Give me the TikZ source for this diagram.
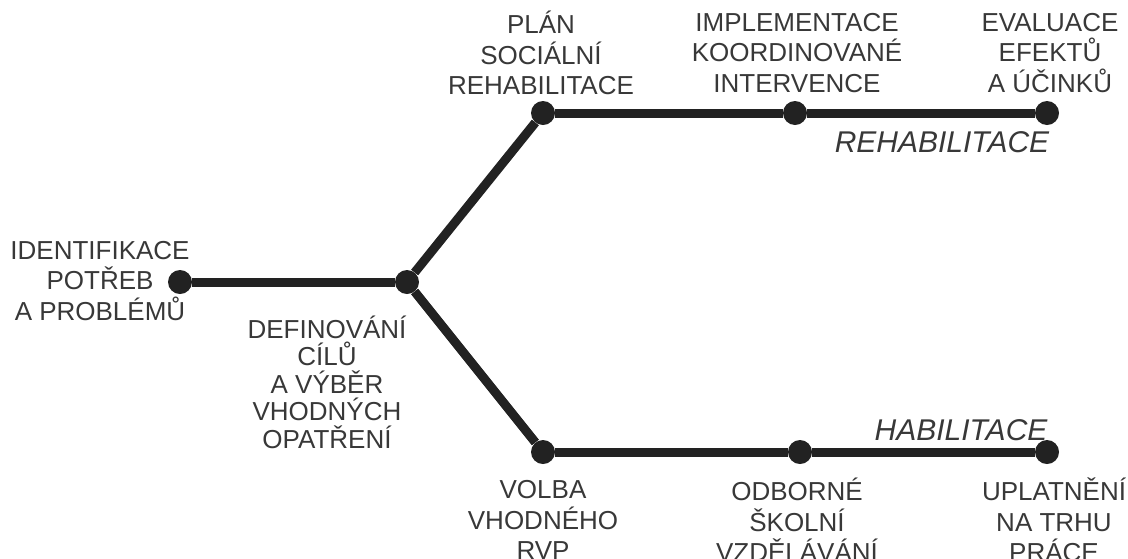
\documentclass[tikz,border=0pt]{standalone}
\usepackage{fontspec}
\setmainfont{Liberation Sans}
\definecolor{linec}{HTML}{222222}
\definecolor{textc}{HTML}{383838}
\begin{document}
\begin{tikzpicture}[x=1pt,y=-1pt,
  dot/.style={circle,fill=linec,inner sep=0pt,minimum size=24pt},
  conn/.style={line width=9pt,draw=linec},
  lbl/.style={align=center,text=textc,inner sep=0pt,font=\fontsize{26}{30.5}\selectfont},
  lbltight/.style={lbl,font=\fontsize{26}{27.5}\selectfont},
  branch/.style={text=textc,inner sep=0pt,font=\fontsize{30}{32}\selectfont\itshape}]
\useasboundingbox (0,0) rectangle (1128,558);
% dots
\node[dot] (id) at (180,282) {};
\node[dot] (j) at (407,282) {};
\node[dot] (t1) at (543,113) {};
\node[dot] (t2) at (795,113) {};
\node[dot] (t3) at (1047,113) {};
\node[dot] (b1) at (543,452) {};
\node[dot] (b2) at (800,452) {};
\node[dot] (b3) at (1047,452) {};
% connectors
\draw[conn] (id) -- (j);
\draw[conn] (j) -- (t1);
\draw[conn] (t1) -- (t2);
\draw[conn] (t2) -- (t3);
\draw[conn] (j) -- (b1);
\draw[conn] (b1) -- (b2);
\draw[conn] (b2) -- (b3);
% labels
\node[lbl] (lid) at (100,281) {IDENTIFIKACE\\POTŘEB\\A PROBLÉMŮ};
\node[lbltight] (lj) at (327,382) {DEFINOVÁNÍ\\CÍLŮ\\A VÝBĚR\\VHODNÝCH\\OPATŘENÍ};
\node[lbl] (lt1) at (541,53) {PLÁN\\SOCIÁLNÍ\\REHABILITACE};
\node[lbl] (lt2) at (797,53) {IMPLEMENTACE\\KOORDINOVANÉ\\INTERVENCE};
\node[lbl] (lt3) at (1050,53) {EVALUACE\\EFEKTŮ\\A ÚČINKŮ};
\node[lbl] (lb1) at (543,520) {VOLBA\\VHODNÉHO\\RVP};
\node[lbl] (lb2) at (797,520) {ODBORNÉ\\ŠKOLNÍ\\VZDĚLÁVÁNÍ};
\node[lbl] (lb3) at (1054,520) {UPLATNĚNÍ\\NA TRHU\\PRÁCE};
\node[branch] (reh) at (942,142) {REHABILITACE};
\node[branch] (hab) at (961,430) {HABILITACE};
\end{tikzpicture}
\end{document}
